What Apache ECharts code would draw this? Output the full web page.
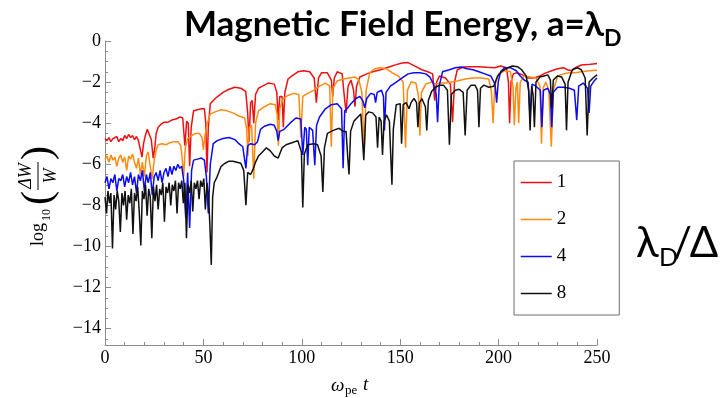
<!DOCTYPE html>
<html><head><meta charset="utf-8">
<script src="https://cdn.jsdelivr.net/npm/echarts@6/dist/echarts.min.js"></script>
<style>html,body{margin:0;padding:0;background:#fff}#c{width:725px;height:398px}</style>
</head><body><div id="c"></div>
<script>
const seriesNames = ['1', '2', '4', '8'];
const seriesColors = ['#ee1111', '#ff8a10', '#0b0bf5', '#111111'];
const yTickValues = [0, -2, -4, -6, -8, -10, -12, -14];
const yMinorTickValues = [];
for (let v = 0; v >= -14.5; v -= 0.5) yMinorTickValues.push(v);

const red1 = [[0,-4.75],[1,-4.85],[2,-4.7],[3,-4.9],[4,-4.75],[5,-4.8],[6,-4.65],[7,-4.9],[8,-4.75],[9,-4.85],[10,-4.6],[11,-4.75],[12,-4.55],[13,-4.7],[14,-4.6],[15,-4.8],[16,-4.65],[17,-4.85],[18,-5.3],[18.8,-5.65],[19.6,-5.0],[20.5,-4.6],[21.5,-4.3],[22.5,-4.35],[23.5,-4.8],[24.5,-5.7],[25.3,-5.2],[26,-4.5],[27,-4.2],[28.5,-4.05],[30,-3.95],[32,-3.95],[34,-3.85],[36,-3.8],[38,-3.7],[39.5,-3.75],[40.6,-5.1],[41.5,-3.9],[42.3,-4.0],[43,-6.1],[43.8,-4.2],[45,-3.4],[47,-3.35],[49,-3.3],[50.5,-3.3],[51.2,-4.0],[51.8,-6.4],[52.5,-4.2],[53.5,-3.05],[56,-2.8],[58,-2.65],[60,-2.5],[63,-2.35],[66,-2.25],[69,-2.3],[71.5,-2.45],[72.5,-3.5],[73.2,-4.9],[74,-3.0],[74.8,-2.9],[75.6,-4.0],[76.5,-2.6],[78,-2.3],[80,-2.2],[83,-2.05],[86,-2.1],[87.3,-2.5],[88,-3.85],[88.8,-2.7],[90,-2.7],[90.6,-4.2],[91.4,-2.5],[93,-1.85],[95,-1.7],[98,-1.5],[101,-1.45],[104,-1.5],[106.3,-1.8],[107.4,-3.0],[108.5,-1.8],[110,-1.55],[113,-1.55],[115,-1.9],[115.7,-2.7],[116.5,-1.8],[118,-1.5],[120.5,-1.6],[121.3,-2.4],[122.5,-3.5],[123.5,-2.2],[125,-1.9],[126.3,-2.4],[127,-3.2],[127.8,-2.2],[129.5,-1.75],[133,-1.6],[136,-1.5],[140,-1.4],[144.7,-1.25],[148,-1.15],[151,-1.07],[154,-1.05],[156,-1.15],[158,-1.25],[161,-1.4],[164,-1.5],[166.5,-1.6],[167.5,-2.9],[168.5,-2.0],[170,-1.7],[173,-1.8],[175.5,-2.1],[176.6,-3.95],[177.6,-2.0],[179,-1.4],[182,-1.27],[186,-1.25],[190,-1.25],[194,-1.28],[198,-1.3],[201,-1.22],[204,-1.3],[205,-2.0],[205.6,-4.0],[206.3,-2.0],[207.5,-1.6],[209,-1.55],[211,-1.6],[213,-1.7],[215,-1.8],[218,-1.8],[221,-1.7],[224,-1.55],[227,-1.45],[230,-1.35],[233,-1.3],[235,-1.4],[237,-1.45],[239,-1.3],[242,-1.17],[245,-1.15],[248,-1.12],[250,-1.1]];

const orange2 = [[0,-5.75],[1,-5.6],[2,-5.9],[3,-5.55],[4,-5.8],[5,-5.65],[6,-6.1],[7,-5.7],[8,-5.55],[9,-5.9],[10,-5.65],[11,-6.3],[12,-5.6],[13,-5.75],[14,-5.5],[15,-5.9],[16,-6.2],[17,-5.7],[18,-6.5],[19,-5.9],[20,-6.6],[21,-5.6],[22,-5.4],[23,-6.1],[24,-6.7],[25,-5.8],[26,-5.3],[27,-5.05],[29,-5.0],[31,-5.05],[33,-4.95],[35,-4.9],[37,-4.9],[38.5,-5.1],[39.3,-5.8],[40,-6.6],[40.8,-5.2],[42,-4.75],[44,-4.6],[46,-4.5],[48,-4.5],[49.3,-4.7],[50,-5.3],[50.8,-4.6],[52,-4.0],[53.5,-3.55],[56,-3.45],[59,-3.35],[62,-3.4],[65,-3.5],[68,-3.65],[71,-3.75],[72,-4.3],[72.6,-5.6],[73.3,-4.2],[74.5,-4.1],[75.6,-6.7],[76.5,-4.0],[78,-3.4],[81,-3.2],[84,-3.05],[86.5,-3.1],[87.5,-3.6],[88.1,-5.1],[88.8,-3.3],[90.5,-2.8],[93,-2.65],[96,-2.55],[98.5,-2.6],[99.5,-4.7],[100.5,-2.7],[103,-2.55],[106,-2.4],[109,-2.2],[112,-2.05],[114.2,-2.2],[115,-5.15],[115.8,-2.3],[118,-1.95],[121,-1.85],[124,-1.8],[127,-1.75],[129,-1.9],[130.5,-2.5],[131.7,-5.4],[132.7,-2.4],[134.5,-1.55],[137,-1.35],[140,-1.3],[143,-1.35],[146,-1.55],[149,-1.7],[151.5,-2.0],[152.7,-5.2],[153.7,-2.4],[155.5,-2.0],[158,-2.05],[159.3,-2.7],[160,-4.6],[160.8,-2.5],[163,-2.1],[166,-2.0],[168,-2.1],[170,-2.05],[173,-2.05],[176,-2.0],[179,-1.95],[183,-1.85],[187,-1.8],[191,-1.8],[195,-1.85],[196.3,-2.4],[197.2,-4.0],[198,-2.2],[200,-1.6],[203,-1.45],[206,-1.5],[207.3,-2.2],[208,-4.1],[208.8,-2.3],[209.5,-2.0],[210.2,-4.0],[211,-2.0],[213,-1.7],[216,-1.75],[219,-1.8],[221,-2.2],[221.8,-5.0],[222.6,-2.3],[224,-2.0],[225.5,-2.4],[226.8,-5.15],[227.8,-2.4],[230,-1.7],[233,-1.6],[236,-1.55],[239,-1.55],[242,-1.5],[246,-1.45],[250,-1.42]];

const blue4 = [[0,-6.9],[1,-6.6],[2,-7.2],[3,-6.7],[4,-6.9],[5,-6.5],[6,-7.3],[7,-6.7],[8,-6.8],[9,-6.5],[10,-7.1],[11,-6.6],[12,-6.9],[13,-6.4],[14,-7.0],[15,-6.6],[16,-7.4],[17,-6.5],[18,-6.8],[19,-6.3],[20,-7.3],[21,-6.5],[22,-6.9],[23,-6.4],[24,-7.5],[25,-6.6],[26,-6.4],[27,-6.8],[28,-6.3],[29,-6.9],[30,-6.4],[31,-6.2],[32,-6.6],[33,-6.1],[34,-6.5],[35,-6.1],[36,-6.3],[37,-6.0],[38,-6.2],[39,-6.1],[40,-6.8],[41,-8.6],[42,-6.4],[43,-9.1],[44,-6.3],[45,-5.8],[47,-5.75],[49,-5.7],[50.5,-5.8],[51.5,-6.6],[52.5,-8.4],[53.5,-6.0],[55,-5.0],[57,-4.85],[60,-4.75],[63,-4.7],[66,-4.8],[68,-5.0],[70,-5.15],[71.6,-6.2],[72.5,-5.1],[74,-5.0],[76,-5.05],[77.5,-4.9],[79,-4.3],[81,-4.15],[84,-4.05],[86,-4.1],[87.3,-4.4],[88,-4.85],[88.8,-4.4],[91,-4.3],[94,-4.0],[97,-3.75],[99.5,-3.8],[100.5,-5.55],[101.5,-4.2],[102.3,-4.3],[103,-6.05],[103.8,-4.2],[105.5,-4.35],[106.6,-6.05],[107.5,-4.1],[109,-3.7],[112,-3.3],[115,-3.1],[118,-3.05],[120.2,-3.3],[121,-6.2],[121.8,-3.4],[123,-3.3],[125,-3.05],[127.5,-2.8],[129.5,-2.7],[131,-2.9],[132,-3.25],[133,-2.8],[135,-2.55],[136.8,-2.6],[137.5,-3.0],[138.3,-2.5],[140.5,-2.4],[141.5,-2.7],[142,-4.35],[142.8,-2.5],[145,-2.2],[148,-2.0],[151,-1.8],[154,-1.6],[157,-1.55],[160,-1.55],[163,-1.6],[165,-1.75],[167,-2.1],[168.3,-2.6],[169,-3.95],[169.8,-2.2],[171.5,-1.5],[175,-1.4],[178,-1.3],[181,-1.27],[184,-1.35],[187,-1.4],[190,-1.5],[193,-1.6],[196,-1.7],[198.2,-2.1],[199,-3.0],[199.8,-2.0],[201,-1.5],[203,-1.3],[206,-1.3],[209,-1.45],[211,-1.7],[213,-1.9],[215,-2.0],[216,-3.7],[217,-2.1],[219,-2.2],[221.2,-2.4],[222,-4.2],[222.8,-2.4],[225,-2.3],[226.3,-2.6],[227,-4.2],[227.8,-2.5],[230,-2.25],[233,-2.25],[236,-2.3],[238.5,-2.4],[239.7,-3.85],[240.7,-2.2],[243,-2.05],[245.2,-2.3],[246,-3.5],[246.8,-2.2],[248.5,-1.95],[250,-1.8]];

const black8 = [[0,-7.6],[0.8,-8.4],[1.5,-7.3],[2.3,-7.9],[3,-7.4],[3.8,-10.1],[4.6,-7.5],[5.4,-8.2],[6.2,-7.3],[7,-7.8],[7.8,-9.3],[8.6,-7.4],[9.4,-8.0],[10.2,-7.3],[11,-8.7],[11.8,-7.5],[12.6,-7.9],[13.4,-7.2],[14.2,-9.4],[15,-7.4],[15.8,-7.8],[16.6,-7.1],[17.4,-8.3],[18.2,-9.95],[19,-7.3],[19.8,-7.7],[20.6,-7.0],[21.4,-8.5],[22.2,-7.2],[23,-7.6],[23.8,-9.6],[24.6,-7.1],[25.4,-7.8],[26.2,-7.0],[27,-8.2],[27.8,-7.2],[28.6,-7.5],[29.4,-6.9],[30.2,-8.8],[31,-7.1],[31.8,-7.4],[32.6,-6.9],[33.4,-8.0],[34.2,-7.0],[35,-7.3],[35.8,-6.8],[36.6,-8.4],[37.4,-6.9],[38.2,-7.2],[39,-6.8],[39.8,-7.9],[40.6,-6.9],[41.4,-9.6],[42.2,-7.0],[43,-7.4],[43.8,-6.8],[44.6,-8.3],[45.4,-6.9],[46.2,-7.2],[47,-6.8],[47.8,-7.7],[48.6,-6.8],[49.4,-7.1],[50.2,-6.7],[51,-8.2],[51.8,-6.9],[52.6,-7.5],[53.3,-9.0],[54,-10.9],[54.7,-7.6],[55.5,-6.9],[57,-6.6],[59,-6.1],[61,-5.95],[63,-5.85],[65,-5.85],[67,-5.9],[69,-5.95],[70.5,-6.3],[71.6,-8.0],[72.5,-6.4],[74,-6.5],[75,-6.3],[76.5,-5.9],[78,-5.6],[80,-5.4],[82,-5.2],[84,-5.35],[86,-5.6],[88,-5.7],[90,-5.2],[92,-5.05],[95,-4.95],[98,-4.85],[99.8,-5.4],[100.5,-8.1],[101.3,-5.5],[103,-5.05],[106,-5.0],[108,-5.05],[109.8,-5.6],[110.7,-7.35],[111.5,-5.2],[113,-4.5],[116,-4.35],[119,-4.25],[121,-4.4],[122.5,-4.4],[123.3,-5.6],[124,-6.5],[124.8,-4.4],[126.5,-3.9],[128,-3.75],[130,-3.55],[131.5,-5.8],[132.5,-3.6],[134,-3.45],[136,-3.5],[137.7,-3.7],[138.5,-5.2],[139.3,-3.7],[140.3,-3.9],[141,-5.55],[141.8,-3.9],[143,-3.6],[144.5,-3.9],[145.2,-5.6],[145.8,-7.0],[146.5,-4.3],[148,-3.1],[150,-3.05],[150.7,-5.0],[151.5,-3.1],[153,-3.0],[154.5,-3.3],[155.5,-3.0],[157,-2.8],[158.3,-3.0],[159,-4.2],[159.8,-3.0],[161,-2.8],[162.8,-3.2],[163.5,-4.35],[164.3,-2.9],[166,-2.45],[168,-2.25],[170,-2.15],[172,-2.15],[174,-2.4],[175,-5.05],[176,-2.6],[178,-2.4],[180,-2.35],[182,-2.5],[183,-4.6],[184,-2.4],[186,-2.15],[188,-2.15],[189.3,-2.4],[190,-4.2],[190.8,-2.3],[192.5,-2.15],[195,-2.25],[197.5,-2.2],[199.5,-1.7],[202,-1.45],[204.6,-1.3],[207,-1.22],[209.6,-1.25],[211.7,-1.4],[214,-1.7],[215.3,-2.4],[216,-4.35],[216.8,-2.2],[217.5,-2.6],[218.2,-4.2],[219,-2.0],[221,-1.75],[223,-1.7],[225,-1.65],[226.3,-1.9],[227,-3.3],[227.8,-1.9],[230,-1.7],[232,-1.75],[233.8,-2.1],[234.5,-4.35],[235.3,-2.0],[237.5,-1.4],[240,-1.3],[242,-1.4],[244,-1.8],[245,-4.6],[246,-2.0],[248,-1.8],[250,-1.65]];

const seriesData = [red1, orange2, blue4, black8];

const SERIF = '"Liberation Serif", "Times New Roman", serif';
const SANS = 'Lato, "Open Sans", sans-serif';
const minus = v => String(v).replace('-', '\u2212');

const chart = echarts.init(document.getElementById('c'), null, { renderer: 'canvas' });

const axisGray = '#8c8c8c';

chart.setOption({
  animation: false,
  backgroundColor: '#ffffff',
  grid: { left: 105, right: 128, top: 41, bottom: 53, containLabel: false },
  xAxis: {
    type: 'value', min: 0, max: 250, interval: 50,
    axisLine: { show: true, onZero: false, lineStyle: { color: axisGray, width: 1 } },
    axisTick: { show: true, inside: true, length: 6, lineStyle: { color: axisGray } },
    minorTick: { show: true, splitNumber: 5, length: 3, lineStyle: { color: axisGray } },
    splitLine: { show: false },
    axisLabel: { color: '#000', fontFamily: SERIF, fontSize: 18, margin: 4 }
  },
  yAxis: [{
    type: 'value', min: -14.8, max: 0,
    axisLine: { show: true, onZero: false, lineStyle: { color: axisGray, width: 1 } },
    axisTick: { show: true, inside: true, length: 6, customValues: yTickValues, lineStyle: { color: axisGray } },
    axisLabel: { color: '#000', fontFamily: SERIF, fontSize: 18, margin: 4, customValues: yTickValues, formatter: minus },
    splitLine: { show: false }
  }, {
    type: 'value', min: -14.8, max: 0, position: 'left',
    axisLine: { show: false },
    axisTick: { show: true, inside: true, length: 3, customValues: yMinorTickValues, lineStyle: { color: axisGray } },
    axisLabel: { show: false },
    splitLine: { show: false }
  }],
  legend: {
    orient: 'vertical', left: 514, top: 161,
    data: seriesNames,
    backgroundColor: '#fff',
    borderColor: '#6e6e6e', borderWidth: 1, borderRadius: 0,
    padding: [12, 53, 12, 6],
    itemWidth: 31, itemHeight: 18, itemGap: 18,
    itemStyle: { opacity: 0, borderWidth: 0 },
    lineStyle: { width: 1.5 },
    textStyle: { color: '#000', fontFamily: SERIF, fontSize: 19 }
  },
  series: seriesNames.map((n, i) => ({
    name: n, type: 'line', data: seriesData[i], yAxisIndex: 0,
    symbol: 'none', showSymbol: false,
    lineStyle: { color: seriesColors[i], width: 1.5 },
    itemStyle: { color: seriesColors[i] },
    clip: true, z: 2 + i
  })),
  graphic: [
    { type: 'text', x: 604, y: 25, style: { text: 'Magnetic Field Energy, a=\u03bb', font: 'bold 35px ' + SANS, fill: '#000', textAlign: 'right', textVerticalAlign: 'middle' } },
    { type: 'text', x: 604, y: 39, style: { text: 'D', font: 'bold 23px ' + SANS, fill: '#000', textAlign: 'left', textVerticalAlign: 'middle' } },
    { type: 'text', x: 636, y: 243, style: { text: '\u03bb', font: '42px ' + SANS, fill: '#000', textAlign: 'left', textVerticalAlign: 'middle' } },
    { type: 'text', x: 659, y: 258, style: { text: 'D', font: '25px ' + SANS, fill: '#000', textAlign: 'left', textVerticalAlign: 'middle' } },
    { type: 'text', x: 673, y: 243, style: { text: '/\u0394', font: '42px ' + SANS, fill: '#000', textAlign: 'left', textVerticalAlign: 'middle' } },
    { type: 'text', x: 331, y: 386, style: { text: '\u03c9', font: 'italic 19px ' + SERIF, fill: '#000', textAlign: 'left', textVerticalAlign: 'middle' } },
    { type: 'text', x: 345, y: 391, style: { text: 'pe', font: '13px ' + SERIF, fill: '#000', textAlign: 'left', textVerticalAlign: 'middle' } },
    { type: 'text', x: 363, y: 385, style: { text: 't', font: 'italic 19px ' + SERIF, fill: '#000', textAlign: 'left', textVerticalAlign: 'middle' } },
    { type: 'group', x: 38, y: 246, rotation: Math.PI / 2, children: [
      { type: 'text', x: 0, y: 0, style: { text: 'log', font: '18px ' + SERIF, fill: '#000', textAlign: 'left', textVerticalAlign: 'middle' } },
      { type: 'text', x: 25, y: 9, style: { text: '10', font: '12px ' + SERIF, fill: '#000', textAlign: 'left', textVerticalAlign: 'middle' } },
      { type: 'text', x: 41, y: 1, style: { text: '(', font: '42px ' + SERIF, fill: '#000', textAlign: 'left', textVerticalAlign: 'middle' } },
      { type: 'text', x: 70, y: -12, style: { text: '\u0394W', font: 'italic 18px ' + SERIF, fill: '#000', textAlign: 'center', textVerticalAlign: 'middle' } },
      { type: 'line', shape: { x1: 56, y1: 0, x2: 84, y2: 0 }, style: { stroke: '#000', lineWidth: 1 } },
      { type: 'text', x: 70, y: 13, style: { text: 'W', font: 'italic 18px ' + SERIF, fill: '#000', textAlign: 'center', textVerticalAlign: 'middle' } },
      { type: 'text', x: 86, y: 1, style: { text: ')', font: '42px ' + SERIF, fill: '#000', textAlign: 'left', textVerticalAlign: 'middle' } }
    ] }
  ]
});
</script></body></html>
